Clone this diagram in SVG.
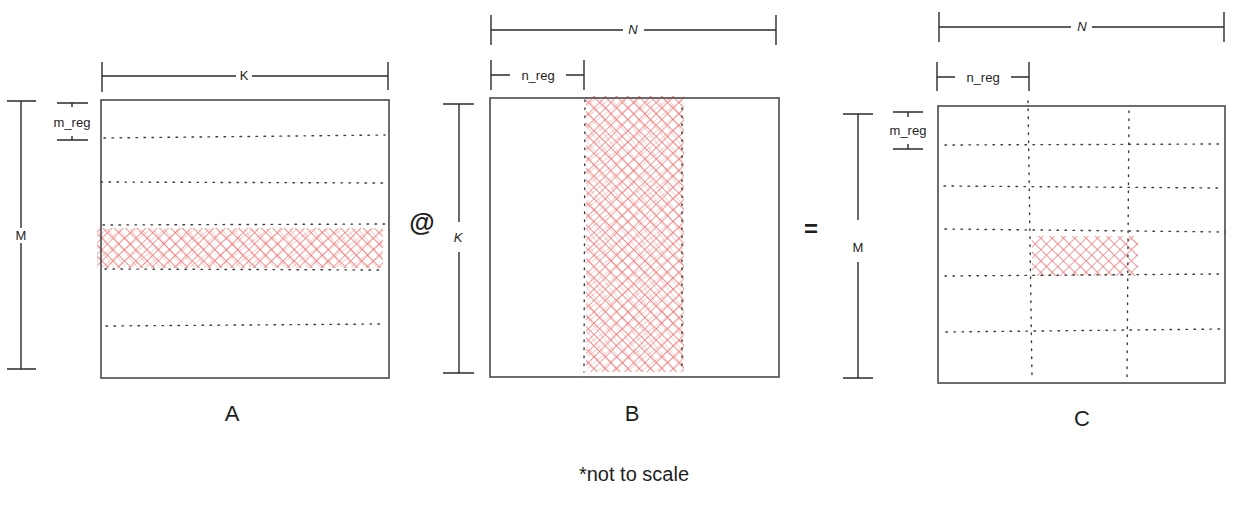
<svg xmlns="http://www.w3.org/2000/svg" width="1241" height="509" viewBox="0 0 1241 509">
<style>
.box{fill:none;stroke:#4a4a4a;stroke-width:1.6}
.dim{fill:none;stroke:#2b2b2b;stroke-width:1.4}
.dot{fill:none;stroke:#3a3a3a;stroke-width:1.4;stroke-dasharray:1.5 6.5;stroke-linecap:round}
.lbl{font-family:"Liberation Sans",Arial,sans-serif;fill:#1e1e1e;text-anchor:middle;dominant-baseline:central}
.s{font-size:13px}
.big{font-size:22px}
.hatch{fill:url(#xh);stroke:none}
.hatch2{fill:url(#xh2);stroke:none}
</style>
<defs>
<pattern id="xh" patternUnits="userSpaceOnUse" width="8" height="8" patternTransform="rotate(45)">
<path d="M0,0 H8 M0,0 V8" stroke="#ef6a6a" stroke-width="1.3" fill="none"/>
</pattern>
<pattern id="xh2" patternUnits="userSpaceOnUse" width="9" height="9" patternTransform="rotate(52) translate(3,2)">
<path d="M0,0 H9 M0,0 V9" stroke="#f48080" stroke-width="0.9" fill="none" stroke-opacity="0.8"/>
</pattern>
</defs>
<rect width="1241" height="509" fill="#ffffff"/>

<g id="matrixA">
<rect class="hatch2" x="97" y="229" width="286" height="38"/>
<rect class="hatch" x="97" y="228" width="286" height="40"/>
<rect class="box" x="101" y="100" width="288" height="278"/>
<path class="dot" d="M104,138 L385,135 M101,182 L383,183 M103,225 L387,224 M105,269 L381,270 M106,326 L381,324"/>
<text class="lbl big" x="232" y="413">A</text>
</g>
<g id="dimA">
<path class="dim" d="M102,76 H236 M252,76 H388 M102,62 V92 M388,62 V90"/>
<text class="lbl s" x="244" y="75">K</text>
<path class="dim" d="M21,101 V228 M21,243 V369 M7,101 H36 M7,369 H36"/>
<text class="lbl s" x="21" y="235">M</text>
<path class="dim" d="M57,103 H88 M57,140 H88 M72,103 V107 M72,136 V140"/>
<text class="lbl s" x="72" y="122">m_reg</text>
</g>

<g id="op1"><text class="lbl" x="422" y="222" style="font-size:26px;font-weight:bold">@</text></g>

<g id="matrixB">
<rect class="hatch2" x="587" y="97" width="96" height="274"/>
<rect class="hatch" x="586" y="96" width="98" height="276"/>
<rect class="box" x="490" y="98" width="289" height="279"/>
<path class="dot" d="M585,100 L584,372 M682,108 L682,372"/>
<text class="lbl big" x="632" y="413">B</text>
</g>
<g id="dimB">
<path class="dim" d="M491,30 H623 M644,30 H776 M491,15 V45 M776,15 V45"/>
<text class="lbl s" x="633" y="29" font-style="italic">N</text>
<path class="dim" d="M491,75 H510 M566,75 H584 M491,60 V90 M584,60 V90"/>
<text class="lbl s" x="538" y="75">n_reg</text>
<path class="dim" d="M459,104 V222 M459,252 V373 M443,104 H474 M443,373 H474"/>
<text class="lbl s" x="458" y="237" font-style="italic">K</text>
</g>

<g id="op2"><text class="lbl" x="811" y="228" style="font-size:24px;font-weight:bold">=</text></g>

<g id="matrixC">
<rect class="hatch" x="1032" y="236" width="106" height="40"/>
<rect class="box" x="938" y="106" width="287" height="277"/>
<path class="dot" d="M945,145 L1219,144 M944,186 L1219,188 M945,229 L1225,232 M945,276 L1219,274 M946,332 L1221,329 M1028,101 L1032,378 M1129,111 L1127,378"/>
<text class="lbl big" x="1082" y="418">C</text>
</g>
<g id="dimC">
<path class="dim" d="M939,27 H1071 M1092,27 H1224 M939,12 V42 M1224,12 V42"/>
<text class="lbl s" x="1082" y="26" font-style="italic">N</text>
<path class="dim" d="M937,77 H955 M1011,77 H1029 M937,62 V91 M1029,62 V91"/>
<text class="lbl s" x="983" y="77">n_reg</text>
<path class="dim" d="M858,114 V220 M858,262 V378 M843,114 H873 M843,378 H873"/>
<text class="lbl s" x="858" y="247">M</text>
<path class="dim" d="M893,112 H923 M893,149 H923 M908,112 V117 M908,144 V149"/>
<text class="lbl s" x="908" y="130">m_reg</text>
</g>

<text class="lbl" x="634" y="474" style="font-size:20px">*not to scale</text>
</svg>
